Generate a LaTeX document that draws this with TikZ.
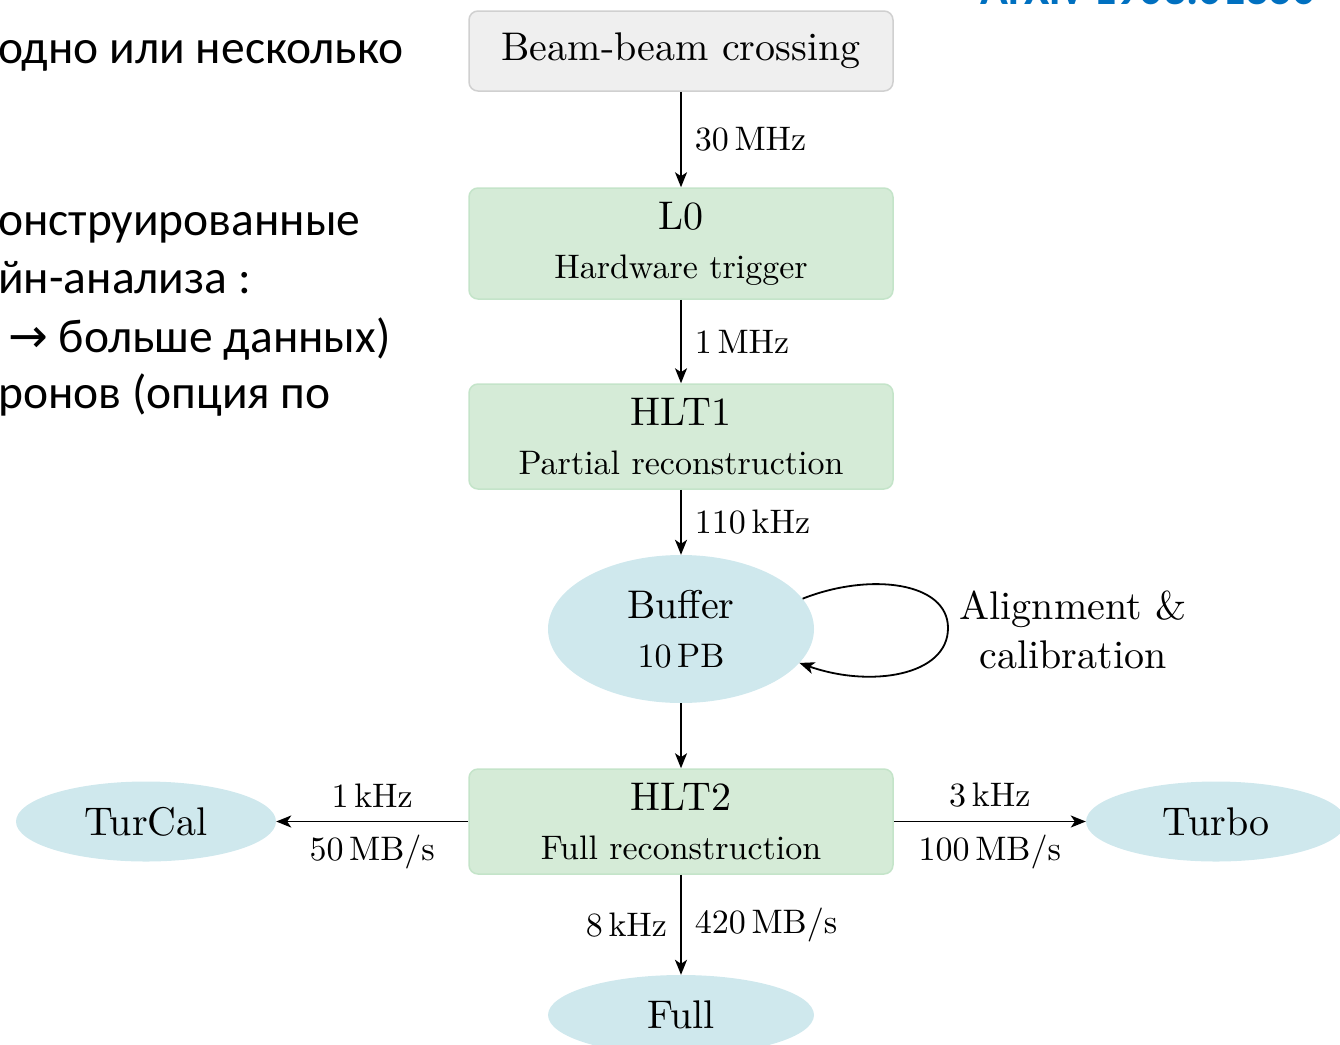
\documentclass[tikz,border=0pt]{standalone}
\usepackage{fontspec}
\setmainfont{lmroman10-regular.otf}
\newfontfamily\slidefont{Carlito}
\newfontfamily\arrowfont{DejaVu Sans}
\usetikzlibrary{arrows.meta,shapes.geometric}
\definecolor{boxgray}{RGB}{239,239,239}
\definecolor{linegray}{RGB}{208,208,208}
\definecolor{boxgreen}{RGB}{213,235,215}
\definecolor{linegreen}{RGB}{196,228,201}
\definecolor{ellblue}{RGB}{207,232,237}
\definecolor{arxivblue}{RGB}{0,112,192}
\newcommand{\bigf}{\fontsize{40}{49}\selectfont}
\newcommand{\smallf}{\fontsize{34}{49}\selectfont}
\newcommand{\slidef}{\fontsize{47.5}{58}\slidefont}
\begin{document}
\begin{tikzpicture}[x=1pt,y=-1pt,
  stage/.style={rectangle, rounded corners=9pt, minimum width=424pt, minimum height=105pt,
    fill=boxgreen, draw=linegreen, line width=1.5pt, align=center, font=\smallf, inner sep=0pt},
  source/.style={stage, fill=boxgray, draw=linegray, minimum height=80pt, font=\bigf},
  store/.style={ellipse, minimum width=260pt, minimum height=80pt, fill=ellblue, draw=none,
    inner sep=0pt, align=center, font=\bigf},
  flow/.style={-{Stealth[length=15pt,width=12pt,inset=4pt]}, line width=1.8pt},
  rate/.style={font=\smallf, inner sep=13pt},
  slide/.style={anchor=base west, inner sep=0pt, font=\slidef}
]
\useasboundingbox (0,0) rectangle (1340,1044);

% slide text (cut by the frame)
\node[slide] (t1) at (-2,63) {одно или несколько};
\node[slide] (t2) at (-2,235) {онструированные};
\node[slide] (t3) at (-2,293) {йн-анализа :};
\node[slide] (t4) at (8,352) {{\arrowfont →} больше данных)};
\node[slide] (t5) at (-2,408) {ронов (опция по};
\node[anchor=base west, inner sep=0pt, text=arxivblue,
      font={\fontsize{46}{55}\slidefont\bfseries}] (arxiv) at (980,5) {ArXiv 1903.01360};

% diagram
\node[source] (beam) at (681,51) {Beam-beam crossing};
\node[stage, minimum height=111pt] (l0) at (681,243.5) {{\bigf L0}\\Hardware trigger};
\node[stage] (hlt1) at (681,436.5) {{\bigf HLT1}\\Partial reconstruction};
\node[store, minimum width=266pt, minimum height=148pt, font=\smallf] (buf) at (681,629) {{\bigf Buffer}\\10\,PB};
\node[stage] (hlt2) at (681,821.5) {{\bigf HLT2}\\Full reconstruction};
\node[store] (turcal) at (146,821.5) {TurCal};
\node[store] (turbo) at (1216,821.5) {Turbo};
\node[store, minimum width=266pt] (full) at (681,1015) {Full};
\node[font=\bigf, align=center, inner sep=0pt] (calnote) at (1073,630) {Alignment \&\\calibration};

\draw[flow] (beam) -- node[rate, right] {30\,MHz} (l0);
\draw[flow] (l0) -- node[rate, right] {1\,MHz} (hlt1);
\draw[flow] (hlt1) -- node[rate, right] {110\,kHz} (buf);
\draw[flow] (buf) -- (hlt2);
\coordinate (loopR) at (948,628);
\draw[flow] (buf.14) .. controls (870,572) and (948,582) .. (loopR)
                     .. controls (948,676) and (870,688) .. (buf.-16);
\draw[flow] (hlt2) -- node[rate, above] {1\,kHz} node[rate, below] {50\,MB/s} (turcal);
\draw[flow] (hlt2) -- node[rate, above] {3\,kHz} node[rate, below] {100\,MB/s} (turbo);
\draw[flow] (hlt2) -- node[rate, left] {8\,kHz} node[rate, right] {420\,MB/s} (full);
\end{tikzpicture}
\end{document}
